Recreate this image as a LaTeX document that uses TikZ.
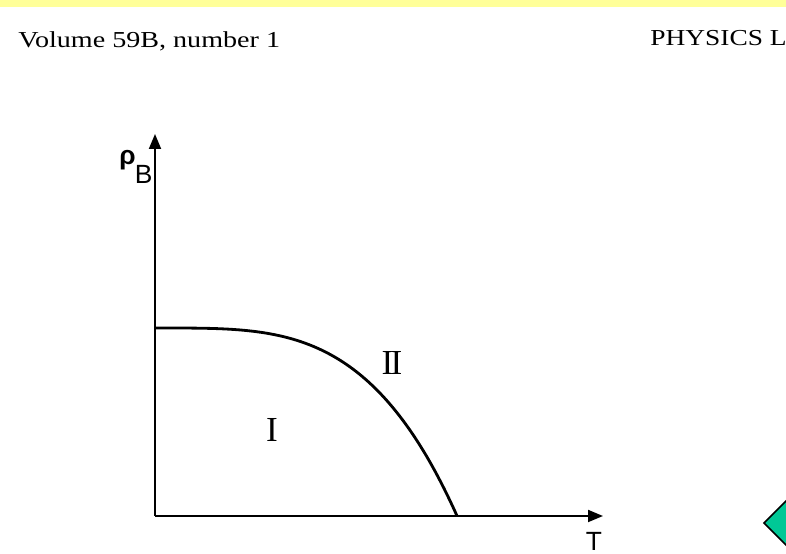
\documentclass[tikz,border=0pt]{standalone}
\usepackage{fontspec}
\usepackage{graphicx}
\setmainfont{Liberation Serif}
\setsansfont{Liberation Sans}
\usetikzlibrary{arrows.meta}
\definecolor{c1}{HTML}{000000}
\definecolor{band}{HTML}{FFFF99}
\definecolor{gem}{HTML}{00C896}

\begin{document}
\begin{tikzpicture}[
    axis/.style={-{Triangle[length=0.30cm, width=0.24cm]}, line width=1.1pt, color=c1},
    phase/.style={c1, line width=1.6pt},
    hdr/.style={font=\fontsize{13}{15}\selectfont, anchor=base west, inner sep=0pt},
    region/.style={font=\fontsize{20}{22}\selectfont, text=c1},
    axlab/.style={font=\sffamily\fontsize{15}{17}\selectfont, text=c1, inner sep=0pt},
]
\useasboundingbox (0, 0) rectangle (15.72, 11.08);
\fill[white] (0, 0) rectangle (15.72, 11.08);

% ============================================================ page header
\fill[band] (0, 10.94) rectangle (15.72, 11.08);
\node[hdr] (vol) at (0.36, 10.12) {\scalebox{1.23}[1]{Volume 59B, number 1}};
\node[hdr] (jrn) at (13.00, 10.16) {\scalebox{1.2}[1]{PHYSICS L}};

% ============================================================ the axes
\coordinate (origin) at (3.10, 0.76);
\coordinate (ytip) at (3.10, 8.40);
\coordinate (xtip) at (12.06, 0.76);
\draw[axis] (origin) -- (ytip);
\draw[axis] (origin) -- (xtip);
\node[axlab, anchor=base west] (rho) at (2.38, 7.78) {\textbf{ρ}\kern-0.5pt\raisebox{-10.5pt}{B}};
\node[axlab, anchor=base] (temp) at (11.88, 0.06) {T};

% ============================================================ the phase boundary
\draw[phase] plot[domain=0.001:1, samples=120, smooth]
    ({3.10 + 6.04*\x}, {0.76 + 3.76*(1 - \x^3.6)});

% the two regions
\node[region] (one) at (5.44, 2.48) {I};
\node[region] (two) at (7.84, 3.82) {I\kern-1.5ptI};

% ============================================================ corner mark
\filldraw[draw=c1, fill=gem, line width=1.0pt]
    (15.28, 0.62) -- (15.80, 1.14) -- (16.32, 0.62) -- (15.80, 0.10) -- cycle;

\end{tikzpicture}
\end{document}
